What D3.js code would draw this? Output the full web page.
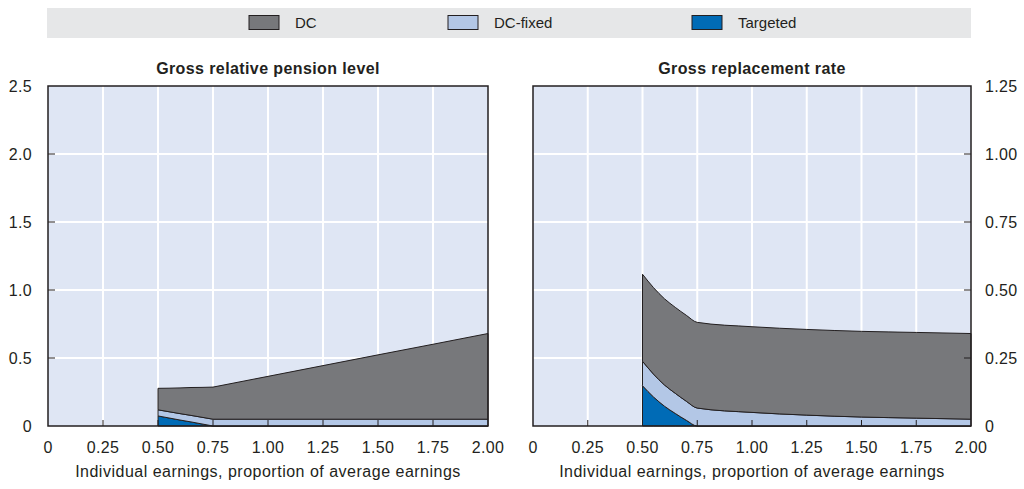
<!DOCTYPE html>
<html>
<head>
<meta charset="utf-8">
<script src="https://cdn.jsdelivr.net/npm/d3@7"></script>
<style>
  body { margin: 0; background: #fff; }
  svg { font-family: "Liberation Sans", Arial, sans-serif; }
</style>
</head>
<body>
<div id="d3-container"></div>
<script>
// DATA
const earnings = [0.5, 0.55, 0.6, 0.65, 0.7, 0.75, 1.0, 1.25, 1.5, 1.75, 2.0];

// gross relative pension level (left)
const levelDC      = [0.158, 0.173, 0.189, 0.205, 0.220, 0.236, 0.315, 0.394, 0.473, 0.551, 0.630];
const levelDCfixed = [0.045, 0.046, 0.047, 0.048, 0.049, 0.050, 0.050, 0.050, 0.050, 0.050, 0.050];
const levelTarget  = [0.074, 0.059, 0.044, 0.030, 0.015, 0, 0, 0, 0, 0, 0];

// gross replacement rate (right)
const rateDC      = [0.320, 0.318, 0.317, 0.316, 0.316, 0.315, 0.315, 0.315, 0.315, 0.315, 0.315];
const rateDCfixed = [0.090, 0.084, 0.078, 0.074, 0.070, 0.066, 0.050, 0.040, 0.033, 0.029, 0.025];
const rateTarget  = [0.148, 0.107, 0.073, 0.046, 0.021, 0, 0, 0, 0, 0, 0];

const xTicks = [0, 0.25, 0.5, 0.75, 1.0, 1.25, 1.5, 1.75, 2.0];
const leftTicks = [0, 0.5, 1.0, 1.5, 2.0, 2.5];
const rightTicks = [0, 0.25, 0.5, 0.75, 1.0, 1.25];

const seriesNames = ['Targeted', 'DC-fixed', 'DC'];
const colors = { 'DC': '#77787b', 'DC-fixed': '#b3c7e6', 'Targeted': '#006bb6' };

const width = 1024, height = 489;
const plotTop = 86, plotBottom = 426;
const textColor = '#231f20';

const svg = d3.select('#d3-container')
  .append('svg')
  .attr('width', width)
  .attr('height', height);

// legend
svg.append('rect')
  .attr('x', 47).attr('y', 8).attr('width', 924).attr('height', 30)
  .attr('fill', '#e6e7e8');

const legendItems = [
  { name: 'DC', x: 249 },
  { name: 'DC-fixed', x: 448 },
  { name: 'Targeted', x: 692 },
];
legendItems.forEach(d => {
  svg.append('rect')
    .attr('x', d.x).attr('y', 15.5).attr('width', 30).attr('height', 14)
    .attr('fill', colors[d.name])
    .attr('stroke', textColor).attr('stroke-width', 1);
  svg.append('text')
    .attr('x', d.x + 46).attr('y', 28)
    .attr('font-size', 15).attr('fill', textColor)
    .text(d.name);
});

function panel(opts) {
  const x = d3.scaleLinear().domain([0, 2]).range([opts.x0, opts.x1]);
  const y = d3.scaleLinear().domain([0, opts.yMax]).range([plotBottom, plotTop]);

  const g = svg.append('g');

  g.append('rect')
    .attr('x', opts.x0).attr('y', plotTop)
    .attr('width', opts.x1 - opts.x0).attr('height', plotBottom - plotTop)
    .attr('fill', '#dfe6f4');

  // grid
  g.selectAll('.vgrid')
    .data(xTicks.slice(1, -1))
    .join('line')
    .attr('x1', d => x(d)).attr('x2', d => x(d))
    .attr('y1', plotTop).attr('y2', plotBottom)
    .attr('stroke', '#fff').attr('stroke-width', 2);
  g.selectAll('.hgrid')
    .data(opts.yTicks.slice(1, -1))
    .join('line')
    .attr('x1', opts.x0).attr('x2', opts.x1)
    .attr('y1', d => y(d)).attr('y2', d => y(d))
    .attr('stroke', '#fff').attr('stroke-width', 2);

  // stacked areas
  const rows = earnings.map((e, i) => ({
    e: e,
    'Targeted': opts.target[i],
    'DC-fixed': opts.fixed[i],
    'DC': opts.dc[i],
  }));
  const stacked = d3.stack().keys(seriesNames)(rows);
  const area = d3.area()
    .x(d => x(d.data.e))
    .y0(d => y(d[0]))
    .y1(d => y(d[1]))
    .curve(opts.curve);

  g.selectAll('.layer')
    .data(stacked)
    .join('path')
    .attr('d', area)
    .attr('fill', d => colors[d.key])
    .attr('stroke', textColor)
    .attr('stroke-width', 1)
    .attr('stroke-linejoin', 'round');

  // x ticks (inside, pointing up)
  g.selectAll('.xtick')
    .data(xTicks.slice(1, -1))
    .join('line')
    .attr('x1', d => x(d)).attr('x2', d => x(d))
    .attr('y1', plotBottom).attr('y2', plotBottom - 6)
    .attr('stroke', textColor).attr('stroke-width', 1);

  // y ticks (inside)
  const side = opts.side === 'left' ? opts.x0 : opts.x1;
  const dir = opts.side === 'left' ? 1 : -1;
  g.selectAll('.ytick')
    .data(opts.yTicks.slice(1, -1))
    .join('line')
    .attr('x1', side).attr('x2', side + dir * 7)
    .attr('y1', d => y(d)).attr('y2', d => y(d))
    .attr('stroke', textColor).attr('stroke-width', 1);

  // frame
  g.append('rect')
    .attr('x', opts.x0).attr('y', plotTop)
    .attr('width', opts.x1 - opts.x0).attr('height', plotBottom - plotTop)
    .attr('fill', 'none')
    .attr('stroke', textColor).attr('stroke-width', 1.5);

  // tick labels
  g.selectAll('.xlabel')
    .data(xTicks)
    .join('text')
    .attr('x', d => x(d)).attr('y', 453)
    .attr('text-anchor', 'middle')
    .attr('font-size', 16).attr('letter-spacing', 0.3).attr('fill', textColor)
    .text(d => d === 0 ? '0' : d3.format('.2f')(d));

  g.selectAll('.ylabel')
    .data(opts.yTicks)
    .join('text')
    .attr('x', opts.side === 'left' ? opts.x0 - 16 : opts.x1 + 14)
    .attr('y', d => y(d) + 6)
    .attr('text-anchor', opts.side === 'left' ? 'end' : 'start')
    .attr('font-size', 16).attr('letter-spacing', 0.3).attr('fill', textColor)
    .text(d => d === 0 ? '0' : opts.fmt(d));

  // titles
  g.append('text')
    .attr('x', (opts.x0 + opts.x1) / 2).attr('y', 74)
    .attr('text-anchor', 'middle')
    .attr('font-size', 16).attr('letter-spacing', 0.4)
    .attr('font-weight', 'bold').attr('fill', textColor)
    .text(opts.title);

  g.append('text')
    .attr('x', (opts.x0 + opts.x1) / 2).attr('y', 477)
    .attr('text-anchor', 'middle')
    .attr('font-size', 16).attr('letter-spacing', 0.5).attr('fill', textColor)
    .text('Individual earnings, proportion of average earnings');
}

panel({
  x0: 48, x1: 488, yMax: 2.5, yTicks: leftTicks, side: 'left',
  fmt: d3.format('.1f'), title: 'Gross relative pension level',
  dc: levelDC, fixed: levelDCfixed, target: levelTarget,
  curve: d3.curveLinear,
});

panel({
  x0: 533, x1: 971, yMax: 1.25, yTicks: rightTicks, side: 'right',
  fmt: d3.format('.2f'), title: 'Gross replacement rate',
  dc: rateDC, fixed: rateDCfixed, target: rateTarget,
  curve: d3.curveMonotoneX,
});
</script>
</body>
</html>
